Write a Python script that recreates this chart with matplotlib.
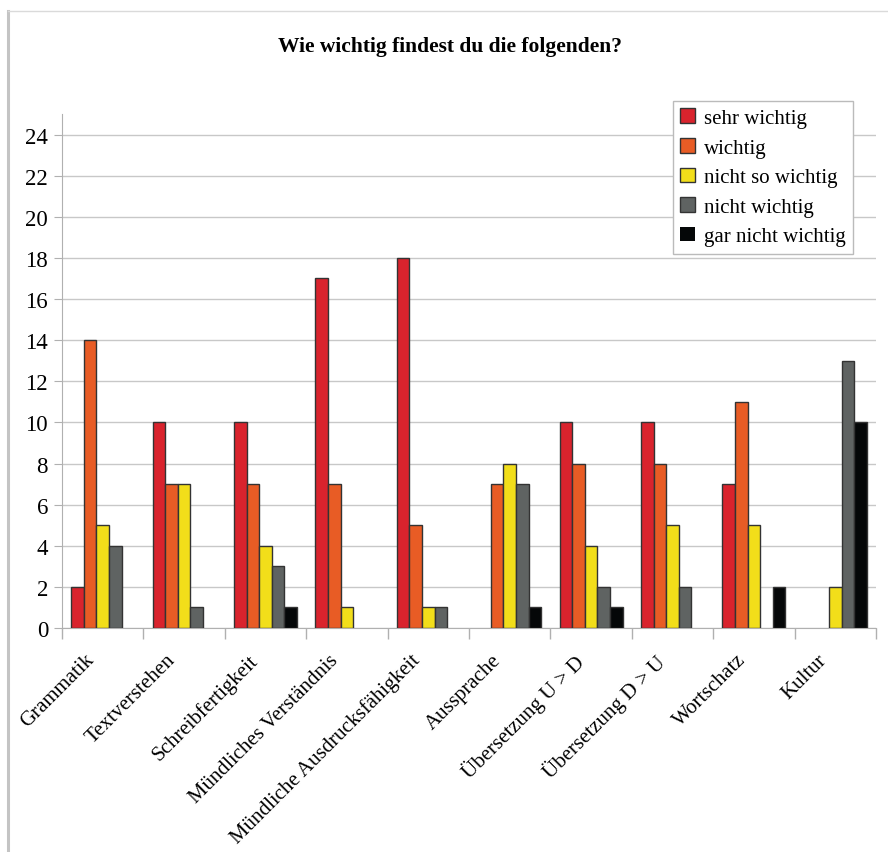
import numpy as np
import matplotlib.pyplot as plt
import matplotlib.transforms as mtransforms
from matplotlib.lines import Line2D

plt.rcParams['font.family'] = ['Liberation Serif', 'DejaVu Serif']

kategorien = ['Grammatik', 'Textverstehen', 'Schreibfertigkeit', 'Mündliches Verständnis',
              'Mündliche Ausdrucksfähigkeit', 'Aussprache', 'Übersetzung U > D',
              'Übersetzung D > U', 'Wortschatz', 'Kultur']
sehr_wichtig = [2, 10, 10, 17, 18, 0, 10, 10, 7, 0]
wichtig = [14, 7, 7, 7, 5, 7, 8, 8, 11, 0]
nicht_so_wichtig = [5, 7, 4, 1, 1, 8, 4, 5, 5, 2]
nicht_wichtig = [4, 1, 3, 0, 1, 7, 2, 2, 0, 13]
gar_nicht_wichtig = [0, 0, 1, 0, 0, 1, 1, 0, 2, 10]

reihen = [sehr_wichtig, wichtig, nicht_so_wichtig, nicht_wichtig, gar_nicht_wichtig]
namen = ['sehr wichtig', 'wichtig', 'nicht so wichtig', 'nicht wichtig', 'gar nicht wichtig']
farben = ['#D9232D', '#E85C25', '#F2DE1A', '#5F6362', '#050708']

fig = plt.figure(figsize=(8.88, 8.53), dpi=100)
ax = fig.add_axes([0.0698, 0.2626, 0.9167, 0.6026])

x = np.arange(len(kategorien))
breite = 0.155
for i, (werte, name, farbe) in enumerate(zip(reihen, namen, farben)):
    # Balken mit Wert 0 ohne Rand
    rand = [1.0 if v > 0 else 0 for v in werte]
    ax.bar(x + (i - 2) * breite, werte, breite, color=farbe, edgecolor='#333333',
           linewidth=rand, label=name, zorder=3)

ax.set_xlim(-0.5, len(kategorien) - 0.5)
ax.set_ylim(0, 25)
ax.set_yticks(range(0, 25, 2))
ax.yaxis.grid(True, color='#C8C8C8', linewidth=1.0, zorder=0)
ax.tick_params(axis='y', labelsize=16.5, length=6, color='#B0B0B0', pad=4)

ax.set_xticks(x)
ax.set_xticklabels(kategorien, rotation=45, ha='right', va='top',
                   rotation_mode='anchor', fontsize=15)
ax.tick_params(axis='x', which='major', length=0, pad=16)
verschiebung = mtransforms.ScaledTranslation(-18 / 100, 0, fig.dpi_scale_trans)
for lbl in ax.get_xticklabels():
    lbl.set_transform(lbl.get_transform() + verschiebung)
ax.set_xticks(np.arange(-0.5, len(kategorien)), minor=True)
ax.tick_params(axis='x', which='minor', length=8, color='#B0B0B0', width=1)

for s in ['top', 'right']:
    ax.spines[s].set_visible(False)
for s in ['left', 'bottom']:
    ax.spines[s].set_color('#B0B0B0')

leg = ax.legend(loc='upper right', bbox_to_anchor=(0.972, 1.025), fontsize=15,
                frameon=True, fancybox=False, framealpha=1, edgecolor='#BBBBBB',
                handlelength=0.7, handleheight=0.7, handletextpad=0.45,
                labelspacing=0.48, borderpad=0.35, borderaxespad=0)
leg.get_frame().set_linewidth(1.0)

fig.text(0.507, 0.945, 'Wie wichtig findest du die folgenden?', ha='center', va='center',
         fontsize=15.5, fontweight='bold')

# Rahmen links und oben
fig.add_artist(Line2D([0.0095, 0.0095], [0, 0.986], color='#C4C4C4', linewidth=2.2))
fig.add_artist(Line2D([0.0095, 1.0], [0.986, 0.986], color='#DADADA', linewidth=1.0))

fig.savefig('out.png', dpi=100, facecolor='white')
